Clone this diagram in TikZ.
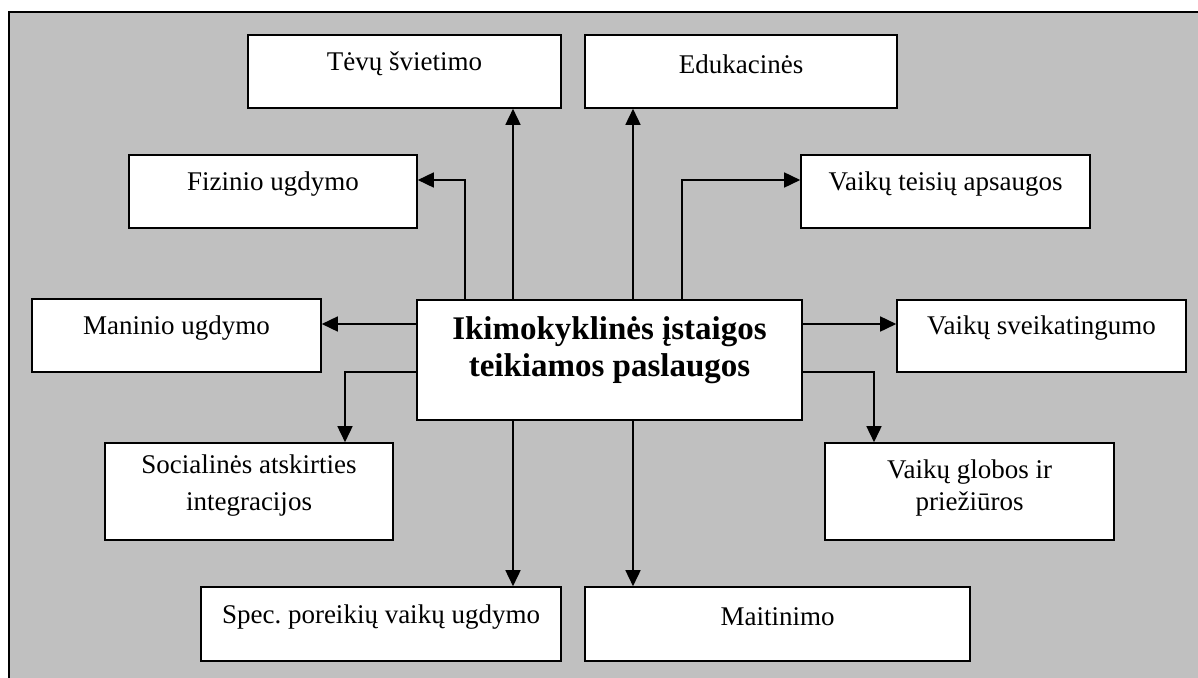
\documentclass[tikz,border=0pt]{standalone}
\usepackage{fontspec}
\setmainfont{Liberation Serif}
\usetikzlibrary{arrows.meta}
\frenchspacing
\tikzset{
  box/.style={draw=black, fill=white, line width=1.6pt, inner sep=0pt, rectangle},
  lab/.style={font=\fontsize{27}{37}\selectfont, align=center, inner sep=0pt},
  blab/.style={font=\fontsize{33}{37}\selectfont\bfseries, align=center, inner sep=0pt},
  arr/.style={line width=1.6pt, -{Triangle[length=16pt,width=15pt]}}
}
\begin{document}
\begin{tikzpicture}[x=1pt,y=-1pt]
\useasboundingbox (0,0) rectangle (1198,677);
\begin{scope}
\clip (0,0) rectangle (1198,677);
\draw[line width=2pt, fill={rgb,255:red,192;green,192;blue,192}] (9,12) rectangle (1215,690);
\end{scope}

\node[box, minimum width=313pt, minimum height=73pt, label={[lab, yshift=7.5pt]center:Tėvų švietimo}] (tevu) at (404.5,71.5) {};
\node[box, minimum width=312pt, minimum height=73pt, label={[lab, yshift=7.5pt]center:Edukacinės}] (edu) at (741,71.5) {};
\node[box, minimum width=288pt, minimum height=73pt, label={[lab, yshift=7pt]center:Fizinio ugdymo}] (fiz) at (273,191.5) {};
\node[box, minimum width=289pt, minimum height=73pt, label={[lab, yshift=7pt]center:Vaikų teisių apsaugos}] (teis) at (945.5,191.5) {};
\node[box, minimum width=289pt, minimum height=73pt, label={[lab, yshift=7.5pt]center:Maninio ugdymo}] (man) at (176.5,335.5) {};
\node[box, minimum width=385pt, minimum height=120pt, label={[blab, yshift=10pt]center:Ikimokyklinės įstaigos\\teikiamos paslaugos}] (c) at (609.5,360) {};
\node[box, minimum width=289pt, minimum height=72pt, label={[lab, yshift=7.5pt]center:Vaikų sveikatingumo}] (sv) at (1041.5,336) {};
\node[box, minimum width=288pt, minimum height=97pt, label={[lab, yshift=5.5pt]center:Socialinės atskirties\\integracijos}] (soc) at (249,491.5) {};
\node[box, minimum width=289pt, minimum height=97pt, label={[font=\fontsize{27}{32}\selectfont, align=center, inner sep=0pt, yshift=4pt]center:Vaikų globos ir\\priežiūros}] (glob) at (969.5,491.5) {};
\node[box, minimum width=360pt, minimum height=74pt, label={[lab, yshift=7pt]center:Spec. poreikių vaikų ugdymo}] (spec) at (381,624) {};
\node[box, minimum width=385pt, minimum height=74pt, label={[lab, yshift=7pt]center:Maitinimo}] (mait) at (777.5,624) {};

\draw[arr] ([xshift=-96.5pt]c.north) -- ([xshift=-96.5pt]c.north |- tevu.south);
\draw[arr] ([xshift=23.5pt]c.north) -- ([xshift=23.5pt]c.north |- edu.south);
\draw[arr] ([xshift=-144.5pt]c.north) |- ([yshift=11.5pt]fiz.east);
\draw[arr] ([xshift=72.5pt]c.north) |- ([yshift=11.5pt]teis.west);
\draw[arr] ([yshift=36pt]c.west) -- ([yshift=36pt]c.west -| man.east);
\draw[arr] ([yshift=36pt]c.east) -- ([yshift=36pt]c.east -| sv.west);
\draw[arr] ([yshift=-12pt]c.west) -| ([xshift=96pt]soc.north);
\draw[arr] ([yshift=-12pt]c.east) -| ([xshift=-95.5pt]glob.north);
\draw[arr] ([xshift=-96.5pt]c.south) -- ([xshift=-96.5pt]c.south |- spec.north);
\draw[arr] ([xshift=23.5pt]c.south) -- ([xshift=23.5pt]c.south |- mait.north);
\end{tikzpicture}
\end{document}
